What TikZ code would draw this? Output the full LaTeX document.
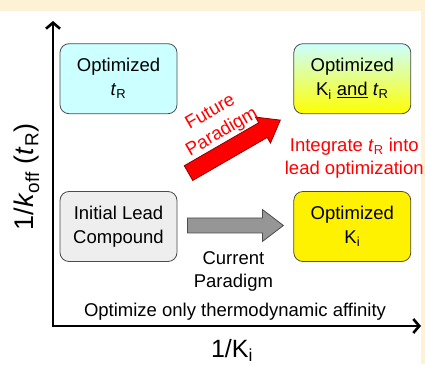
\documentclass[tikz,border=0pt]{standalone}
\usepackage{fontspec}
\setmainfont{Liberation Sans}
\usetikzlibrary{arrows.meta, positioning, calc}

\definecolor{framebeige}{RGB}{253,242,214}
\definecolor{lightcyan}{RGB}{204,255,255}
\definecolor{leadgray}{RGB}{238,238,238}
\definecolor{arrowgray}{RGB}{150,150,150}

\begin{document}
\begin{tikzpicture}[x=1pt, y=1pt,
block/.style={rectangle, align=center, rounded corners=9pt, minimum width=117pt,
minimum height=70pt, draw=black!70, line width=0.8pt, font=\fontsize{18.5}{24}\selectfont},
block-tr/.style={block, fill=lightcyan},
block-both/.style={block, top color=lightcyan, bottom color=yellow},
block-lead/.style={block, fill=leadgray},
block-ki/.style={block, fill=yellow},
note/.style={align=center, inner sep=0pt, font=\fontsize{18.5}{23}\selectfont},
note-red/.style={note, text=red},
axis/.style={draw, line width=2.6pt, line join=miter,
{Straight Barb[length=6pt, width=14pt]}-{Straight Barb[length=6pt, width=14pt]}},
axis-label/.style={inner sep=0pt, font=\fontsize{25}{30}\selectfont},
arrow-gray/.style={draw=black!70, fill=arrowgray, line width=0.8pt, line join=miter},
arrow-red/.style={draw=red!55!black, fill=red, line width=0.8pt, line join=miter}
]
% frame
\fill[framebeige] (0,0) rectangle (425,364);
\fill[white] (0,0) rectangle (421,353);

% axes
\coordinate (origin) at (53,38);
\coordinate (y-end) at (53,343);
\coordinate (x-end) at (421,38);
\path [axis] (y-end) -- (origin) -- (x-end);
\node [axis-label, anchor=base] (x-lbl) at (232,7) {1/K\textsubscript{i}};
\node [axis-label, rotate=90, font=\fontsize{27}{32}\selectfont] (y-lbl) at (27,187)
{1/\textit{k}\textsubscript{off} (\textit{t}\textsubscript{R})};

% boxes
\node [block-lead] (lead) at (118.5,137.5) {Initial Lead\\Compound};
\node [block-ki, right=116pt of lead] (ki) {Optimized\\K\textsubscript{i}};
\node [block-tr, above=77pt of lead] (tr) {Optimized\\\textit{t}\textsubscript{R}};
\node [block-both, above=77pt of ki] (both)
{Optimized\\K\textsubscript{i} \underline{and} \textit{t}\textsubscript{R}};

% paradigm arrows
\coordinate (current) at ($(lead.east)!0.5!(ki.west)+(0,1)$);
\coordinate (future) at ($(lead.north east)!0.5!(both.south west)+(-1,6)$);
\begin{scope}[shift={(current)}]
\draw [arrow-gray] (-48,-7.5) -- (27,-7.5) -- (27,-16) -- (48,0)
-- (27,16) -- (27,7.5) -- (-48,7.5) -- cycle;
\end{scope}
\begin{scope}[shift={(future)}, rotate=30]
\draw [arrow-red] (-53,-8.5) -- (33,-8.5) -- (33,-15) -- (53,0)
-- (33,15) -- (33,8.5) -- (-53,8.5) -- cycle;
\end{scope}

% labels
\node [note] (current-lbl) at ($(current)+(-2,-45.5)$) {Current\\Paradigm};
\node [note-red, rotate=30] (future-lbl) at ($(future)+(-18,24)$) {Future\\Paradigm};
\node [note-red] (integrate) at ($(both.south)+(2,-44)$)
{Integrate \textit{t}\textsubscript{R} into\\lead optimization};
\node [note, anchor=base] (affinity) at (235,47.5) {Optimize only thermodynamic affinity};
\end{tikzpicture}
\end{document}
